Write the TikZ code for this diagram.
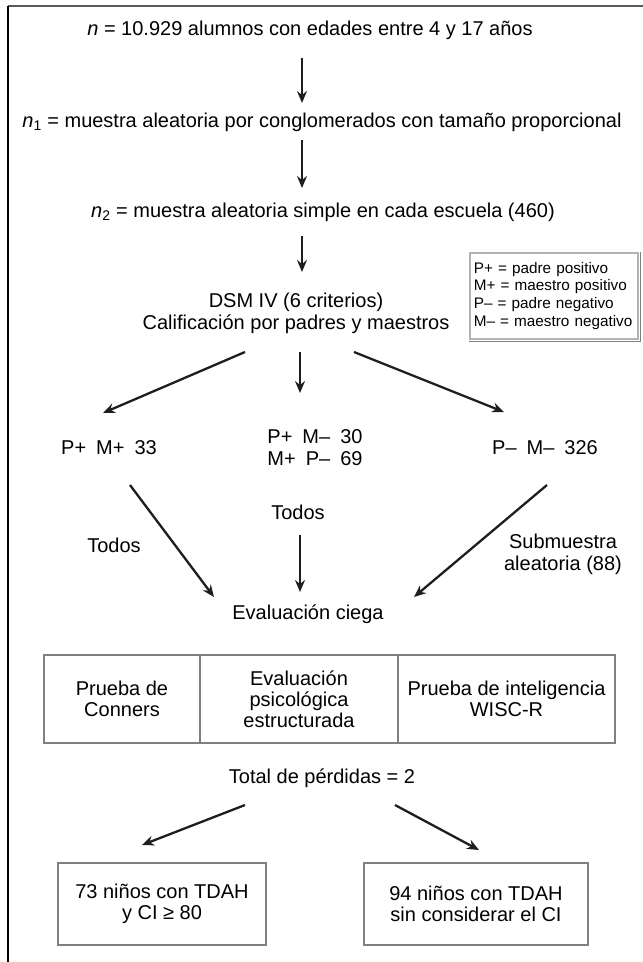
\documentclass[tikz,border=0pt]{standalone}
\usepackage{fontspec}
\setmainfont{Liberation Sans}
\usetikzlibrary{arrows.meta,positioning,calc}
\definecolor{framegray}{RGB}{90,90,90}
\definecolor{boxgray}{RGB}{128,128,128}
\definecolor{flowblack}{RGB}{30,30,30}

\begin{document}
\begin{tikzpicture}[x=1pt, y=-1pt,
  txt/.style={inner sep=0pt, align=center, font=\fontsize{20}{22}\selectfont},
  flow/.style={-{Stealth[length=12pt, width=10pt, inset=4pt]}, line width=2.3pt, draw=flowblack},
  cellbox/.style={draw=boxgray, line width=2pt, outer sep=0pt, inner sep=2pt, minimum height=88pt, align=center, font=\fontsize{20}{21}\selectfont},
  keybox/.style={draw=boxgray!60, line width=1.6pt, inner xsep=3pt, inner ysep=2pt, align=left, font=\fontsize{15.3}{17.6}\selectfont}]
 \useasboundingbox (0,0) rectangle (643,962);
 \draw[framegray, line width=2pt] (8,6) -- (643,6);
 \draw[black, line width=1.5pt] (8,6) -- (8,962);

 \node[txt] (ntotal) at (310,30) {\textit{n} = 10.929 alumnos con edades entre 4 y 17 años};
 \node[txt] (nconglo) at (322,122) {\textit{n}\textsubscript{1} = muestra aleatoria por conglomerados con tamaño proporcional};
 \node[txt] (nsimple) at (323,212) {\textit{n}\textsubscript{2} = muestra aleatoria simple en cada escuela (460)};
 \node[txt] (dsm) at (296,313) {DSM IV (6 criterios)\\Calificación por padres y maestros};
 \node[keybox, anchor=north west, minimum width=168pt, minimum height=86pt, text width=160pt] (legend) at (469,252) {P+ = padre positivo\\M+ = maestro positivo\\P– = padre negativo\\M– = maestro negativo};
 \draw[boxgray, line width=1.2pt] ([xshift=1.5pt]legend.north east) |- ([yshift=-1.5pt]legend.south west);

 \node[txt] (ppmp) at (109,448) {P+\enspace M+\enspace 33};
 \node[txt] (mixed) at (315,448) {P+\enspace M–\enspace 30\\M+\enspace P–\enspace 69};
 \node[txt] (pnmn) at (545,448) {P–\enspace M–\enspace 326};

 \node[txt] (todosA) at (114,545) {Todos};
 \node[txt] (todosB) at (298,512) {Todos};
 \node[txt] (submuestra) at (563,554) {Submuestra\\aleatoria (88)};
 \node[txt] (ciega) at (308,614) {Evaluación ciega};

 \node[cellbox, anchor=north west, minimum width=156pt] (conners) at (44,655) {Prueba de\\Conners};
 \node[cellbox, right=0pt of conners, minimum width=198pt] (psico) {Evaluación\\psicológica\\estructurada};
 \node[cellbox, right=0pt of psico, minimum width=217pt] (wisc) {Prueba de inteligencia\\WISC-R};

 \node[txt] (perdidas) at (322,778) {Total de pérdidas = 2};
 \node[cellbox, minimum width=208pt, minimum height=82pt] (tdahA) at (162,904) {73 niños con TDAH\\y CI ≥ 80};
 \node[cellbox, minimum width=224pt, minimum height=82pt] (tdahB) at (476,904) {94 niños con TDAH\\sin considerar el CI};

 \draw[flow] ($(ntotal)+(-8,28)$) -- ($(nconglo)+(-20,-19)$);
 \draw[flow] ($(nconglo)+(-20,18)$) -- ($(nsimple)+(-21,-24)$);
 \draw[flow] ($(nsimple)+(-21,24)$) -- ($(dsm)+(6,-41)$);

 \draw[flow] ($(dsm)+(-51,39)$) -- ($(ppmp)+(-6,-35)$);
 \draw[flow] ($(dsm)+(4,39)$) -- ($(mixed)+(-15,-55)$);
 \draw[flow] ($(dsm)+(58,39)$) -- ($(pnmn)+(-41,-36)$);

 \draw[flow] ($(ppmp)+(21,37)$) -- ($(ciega)+(-94,-17)$);
 \draw[flow] ($(todosB)+(2,23)$) -- ($(ciega)+(-8,-22)$);
 \draw[flow] ($(pnmn)+(2,37)$) -- ($(ciega)+(106,-17)$);

 \draw[flow] ($(perdidas)+(-77,27)$) -- ($(tdahA)+(-20,-59)$);
 \draw[flow] ($(perdidas)+(73,27)$) -- ($(tdahB)+(3,-54)$);
\end{tikzpicture}
\end{document}
